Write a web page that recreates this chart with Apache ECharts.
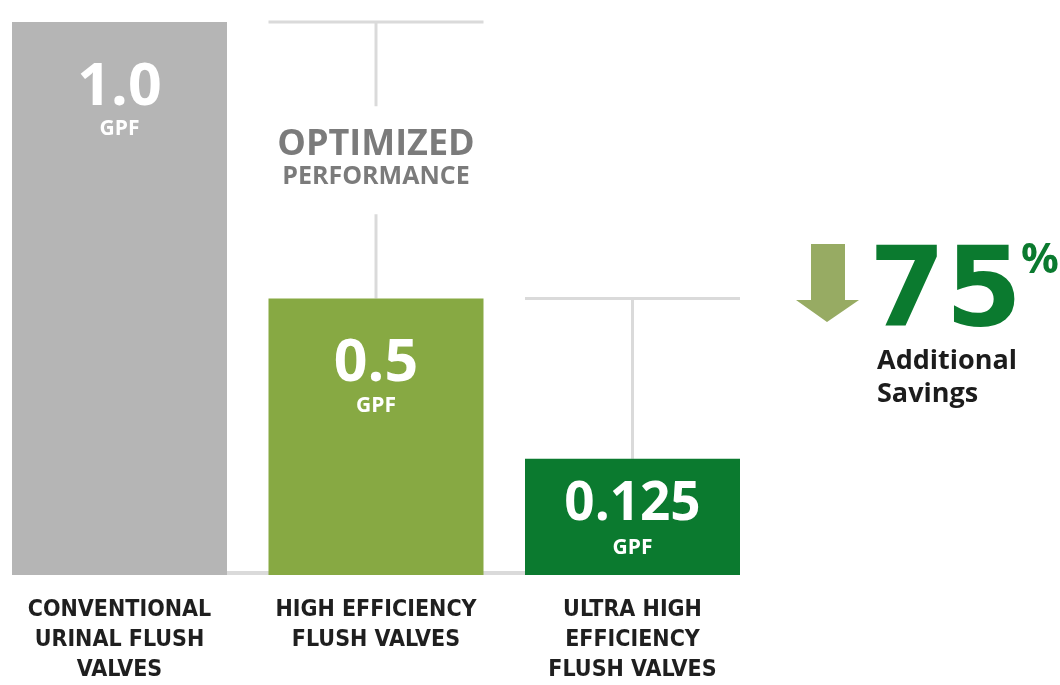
<!DOCTYPE html>
<html>
<head>
<meta charset="utf-8">
<script src="https://cdn.jsdelivr.net/npm/echarts@6/dist/echarts.min.js"></script>
<style>html,body{margin:0;padding:0;background:#fff}#c{width:1060px;height:685px}</style>
</head>
<body>
<div id="c"></div>
<script>
// ---- data ----
const categories = ['CONVENTIONAL\nURINAL FLUSH\nVALVES', 'HIGH EFFICIENCY\nFLUSH VALVES', 'ULTRA HIGH\nEFFICIENCY\nFLUSH VALVES'];
const flowLabels = ['1.0', '0.5', '0.125'];      // gallons per flush, as labelled
const barHeights = [1.0, 0.5, 0.21];             // bar heights as drawn in the picture
const unitLabel = 'GPF';
const noteTitles = ['', 'OPTIMIZED', ''];
const noteSubs = ['', 'PERFORMANCE', ''];
const savingsCaption = ['Additional', 'Savings'];

// ---- styles ----
const barColors = ['#b5b5b5', '#87a943', '#0b7a2f'];
const numFont = '"Open Sans", "Liberation Sans", sans-serif';
const bigFont = '"DejaVu Sans", sans-serif';
const labelStyles = [
  {distance: 37, size: 59, lh1: 58},
  {distance: 37, size: 59, lh1: 58},
  {distance: 15, size: 53, lh1: 62}
];
const BW = 215;
const lineColor = '#dadada';

const prev = parseFloat(flowLabels[1]), last = parseFloat(flowLabels[2]);
const savingsPct = Math.round((prev - last) / prev * 100);

const chart = echarts.init(document.getElementById('c'), null, {renderer: 'canvas'});

const barData = barHeights.map((v, i) => ({
  value: v,
  itemStyle: {color: barColors[i]},
  label: {
    show: true,
    position: 'insideTop',
    distance: labelStyles[i].distance,
    formatter: '{a|' + flowLabels[i] + '}\n{b|' + unitLabel + '}',
    rich: {
      a: {color: '#fff', fontFamily: numFont, fontWeight: 'bold', fontSize: labelStyles[i].size, lineHeight: labelStyles[i].lh1, align: 'center'},
      b: {color: '#fff', fontFamily: numFont, fontWeight: 'bold', fontSize: 21, lineHeight: 25, align: 'center'}
    }
  }
}));

function renderConnector(params, api) {
  const i = api.value(0);
  const children = [];
  if (i === 0) {
    const a = api.coord([0, 0]);
    const b = api.coord([barHeights.length - 1, 0]);
    children.push({type: 'line', shape: {x1: a[0] - BW / 2, y1: a[1] - 2, x2: b[0] + BW / 2, y2: a[1] - 2},
      style: {stroke: lineColor, lineWidth: 4}});
    return {type: 'group', children};
  }
  const top = api.coord([i, barHeights[i - 1]]);
  const bot = api.coord([i, barHeights[i]]);
  const x = top[0];
  children.push({type: 'line', shape: {x1: x - BW / 2, y1: top[1], x2: x + BW / 2, y2: top[1]},
    style: {stroke: lineColor, lineWidth: 3}});
  if (noteTitles[i]) {
    const mid = (top[1] + bot[1]) / 2;
    children.push({type: 'line', shape: {x1: x, y1: top[1], x2: x, y2: mid - 54}, style: {stroke: lineColor, lineWidth: 3}});
    children.push({type: 'line', shape: {x1: x, y1: mid + 54, x2: x, y2: bot[1]}, style: {stroke: lineColor, lineWidth: 3}});
    children.push({type: 'text', style: {text: noteTitles[i], x: x, y: mid - 16, align: 'center', verticalAlign: 'middle',
      fill: '#7b7b7b', fontFamily: numFont, fontWeight: 'bold', fontSize: 36}});
    children.push({type: 'text', style: {text: noteSubs[i], x: x, y: mid + 17, align: 'center', verticalAlign: 'middle',
      fill: '#7b7b7b', fontFamily: numFont, fontWeight: 'bold', fontSize: 25}});
  } else {
    children.push({type: 'line', shape: {x1: x, y1: top[1], x2: x, y2: bot[1]}, style: {stroke: lineColor, lineWidth: 3}});
  }
  return {type: 'group', children};
}

const option = {
  backgroundColor: '#fff',
  animation: false,
  grid: {left: 119.5, width: 513, top: 22, bottom: 108, containLabel: false},
  xAxis: {
    type: 'category',
    data: categories,
    boundaryGap: false,
    axisLine: {show: false},
    axisTick: {show: false},
    axisLabel: {
      margin: 20,
      color: '#1f1f1f',
      fontFamily: '"DejaVu Sans Condensed", "Liberation Sans Narrow", sans-serif',
      fontWeight: 'bold',
      fontSize: 23,
      lineHeight: 30,
      interval: 0
    }
  },
  yAxis: {type: 'value', min: 0, max: 1, show: false, splitLine: {show: false}},
  series: [
    {type: 'custom', z: 1, renderItem: renderConnector, data: barHeights.map((v, i) => [i, v]), silent: true, clip: false},
    {type: 'bar', z: 2, barWidth: BW, data: barData, clip: false}
  ],
  graphic: [
    {type: 'polygon', shape: {points: [[811, 244], [845, 244], [845, 300], [859, 300], [827, 322], [796, 300], [811, 300]]},
      style: {fill: '#97ab63'}},
    {type: 'text', left: 869, top: 241, style: {text: String(savingsPct), fill: '#0b7a2f', fontFamily: bigFont, fontWeight: 'bold', fontSize: 110}},
    {type: 'text', left: 1021, top: 240, style: {text: '%', fill: '#0b7a2f', fontFamily: numFont, fontWeight: 'bold', fontSize: 42}},
    {type: 'text', left: 877, top: 345, style: {text: savingsCaption.join('\n'), fill: '#1c1c1c', fontFamily: numFont, fontWeight: 'bold', fontSize: 27, lineHeight: 33}}
  ]
};
chart.setOption(option);
</script>
</body>
</html>
